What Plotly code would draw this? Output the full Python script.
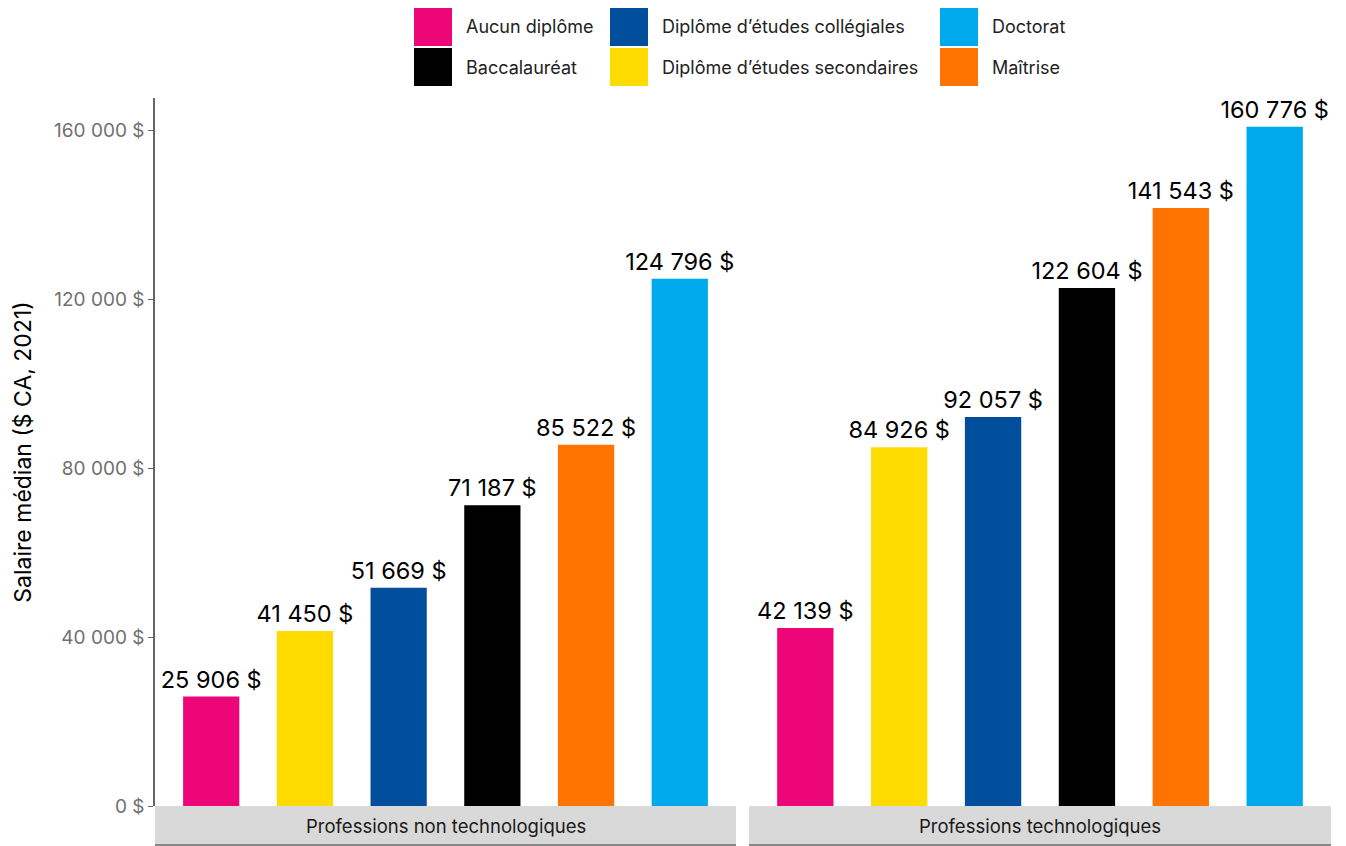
import plotly.graph_objects as go

categories = ["Aucun diplôme", "Diplôme d’études secondaires", "Diplôme d’études collégiales",
              "Baccalauréat", "Maîtrise", "Doctorat"]
colors = ["#EC0677", "#FEDC00", "#004E9C", "#000000", "#FF7300", "#00A8EC"]
non_tech = [25906, 41450, 51669, 71187, 85522, 124796]
tech = [42139, 84926, 92057, 122604, 141543, 160776]
panels = ["Professions non technologiques", "Professions technologiques"]
y_ticks = [0, 40000, 80000, 120000, 160000]
legend_order = [["Aucun diplôme", "Baccalauréat"],
                ["Diplôme d’études collégiales", "Diplôme d’études secondaires"],
                ["Doctorat", "Maîtrise"]]

FONT = "Inter"

def fmt(v):
    return f"{v:,}".replace(",", " ") + " $"

fig = go.Figure()
for vals, xa in [(non_tech, "x"), (tech, "x2")]:
    fig.add_trace(go.Bar(
        x=categories, y=vals, xaxis=xa, yaxis="y",
        marker=dict(color=colors, line=dict(width=0)),
        width=0.6,
        text=[fmt(v) for v in vals], textposition="outside",
        constraintext="none",
        textfont=dict(size=23.5, color="#000000", family=FONT),
        cliponaxis=False, showlegend=False, hoverinfo="skip",
    ))

W, H = 1346, 846
ml, mr, mt, mb = 155, 15, 98, 40
pw = W - ml - mr
ph = H - mt - mb
d1 = (0, (736 - ml) / pw)
d2 = ((749 - ml) / pw, 1)

fig.update_layout(
    width=W, height=H,
    margin=dict(l=ml, r=mr, t=mt, b=mb),
    plot_bgcolor="white", paper_bgcolor="white",
    font=dict(family=FONT, color="#222222"),
    showlegend=False,
    xaxis=dict(domain=list(d1), showticklabels=False, ticks="", showgrid=False,
               zeroline=False, showline=False, range=[-0.6, 5.6],
               categoryorder="array", categoryarray=categories),
    xaxis2=dict(domain=list(d2), showticklabels=False, ticks="", showgrid=False,
                zeroline=False, showline=False, range=[-0.6, 5.6], anchor="y",
                categoryorder="array", categoryarray=categories),
    yaxis=dict(range=[0, 167600], tickvals=y_ticks, ticktext=[fmt(v) for v in y_ticks],
               showgrid=False, zeroline=False, showline=True, linecolor="#666666",
               linewidth=1.5, ticks="outside", ticklen=5, tickcolor="#666666",
               tickfont=dict(size=19, color="#707070", family=FONT),
               title=dict(text="Salaire médian ($ CA, 2021)", standoff=16,
                          font=dict(size=23, color="#000000", family=FONT))),
)

# Facet strips at the bottom
strip_h = 39 / ph
shapes = []
annotations = []
for dom, label in zip([d1, d2], panels):
    shapes.append(dict(type="rect", xref="paper", yref="paper", x0=dom[0], x1=dom[1],
                       y0=-strip_h, y1=0, fillcolor="#D9D9D9", line=dict(width=0), layer="below"))
    shapes.append(dict(type="line", xref="paper", yref="paper", x0=dom[0], x1=dom[1],
                       y0=-strip_h, y1=-strip_h, line=dict(color="#666666", width=1.5)))
    annotations.append(dict(text=label, xref="paper", yref="paper", x=(dom[0] + dom[1]) / 2,
                            y=-strip_h / 2, showarrow=False, xanchor="center", yanchor="middle",
                            font=dict(size=18.5, color="#1a1a1a", family=FONT)))

# Legend drawn manually (3 columns x 2 rows)
col_x = [414, 610, 940]
row_y = [8, 48]
sq = 38
cmap = dict(zip(categories, colors))
for ci, col in enumerate(legend_order):
    for ri, name in enumerate(col):
        x0 = (col_x[ci] - ml) / pw
        x1 = (col_x[ci] + sq - ml) / pw
        y_top = 1 + (mt - row_y[ri]) / ph
        y_bot = 1 + (mt - row_y[ri] - sq) / ph
        shapes.append(dict(type="rect", xref="paper", yref="paper", x0=x0, x1=x1,
                           y0=y_bot, y1=y_top, fillcolor=cmap[name], line=dict(width=0)))
        annotations.append(dict(text=name, xref="paper", yref="paper",
                                x=(col_x[ci] + sq + 12 - ml) / pw, y=(y_top + y_bot) / 2,
                                showarrow=False, xanchor="left", yanchor="middle",
                                font=dict(size=18, color="#222222", family=FONT)))

fig.update_layout(shapes=shapes, annotations=annotations)
fig.write_html("out.html", config={"displayModeBar": False},
               post_script="document.body.style.margin='0';")
